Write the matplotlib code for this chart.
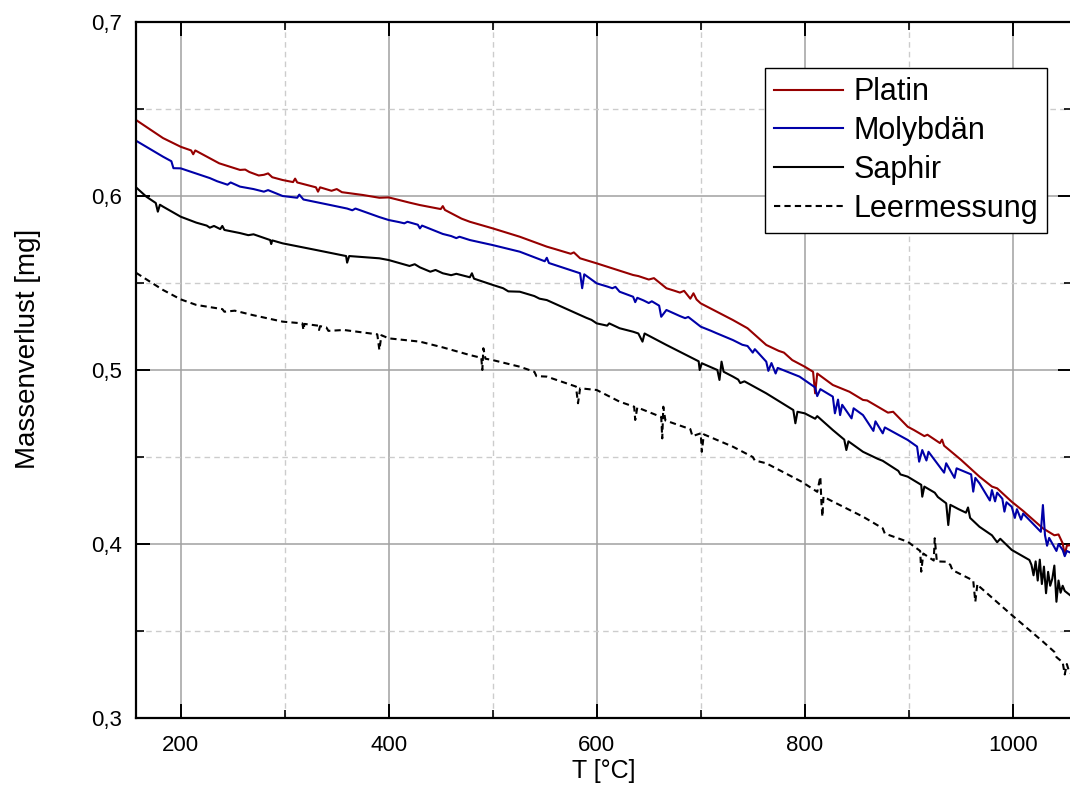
import matplotlib
matplotlib.use("Agg")
import matplotlib.pyplot as plt
from matplotlib.ticker import MultipleLocator, FuncFormatter

plt.rcParams['font.family'] = ['Liberation Sans', 'DejaVu Sans']

# --- data: (T in °C, mass loss in mg) ---
platin = [
    (157, 0.6437), (183, 0.6333), (200, 0.6283), (210, 0.6262), (212, 0.6240), (214, 0.6262),
    (237, 0.6188), (257, 0.6150), (262, 0.6152), (266, 0.6138), (275, 0.6118), (280, 0.6122),
    (284, 0.6130), (288, 0.6108), (298, 0.6092), (308, 0.6080), (310, 0.6100), (312, 0.6078),
    (330, 0.6050), (332, 0.6025), (334, 0.6050), (345, 0.6030), (350, 0.6040), (355, 0.6022),
    (375, 0.6006), (391, 0.5990), (400, 0.5992), (420, 0.5962), (430, 0.5948), (450, 0.5925),
    (452, 0.5942), (454, 0.5920), (470, 0.5870), (478, 0.5852), (500, 0.5814), (526, 0.5766),
    (552, 0.5709), (560, 0.5695), (575, 0.5668), (578, 0.5676), (584, 0.5642), (600, 0.5613),
    (635, 0.5546), (640, 0.5540), (650, 0.5520), (655, 0.5528), (667, 0.5470), (675, 0.5455),
    (680, 0.5445), (684, 0.5455), (690, 0.5410), (693, 0.5441), (696, 0.5405), (700, 0.5383),
    (731, 0.5287), (745, 0.5240), (763, 0.5144), (775, 0.5110), (780, 0.5100), (788, 0.5057),
    (800, 0.5019), (808, 0.4990), (810, 0.4866), (812, 0.4980), (827, 0.4914), (843, 0.4875),
    (856, 0.4828), (860, 0.4825), (880, 0.4755), (885, 0.4760), (899, 0.4674), (905, 0.4655),
    (915, 0.4620), (918, 0.4628), (930, 0.4580), (932, 0.4600), (934, 0.4565), (950, 0.4485),
    (968, 0.4387), (980, 0.4330), (985, 0.4320), (999, 0.4243), (1010, 0.4190), (1029, 0.4090),
    (1040, 0.4050), (1044, 0.4055), (1048, 0.4004), (1050, 0.3937), (1052, 0.3990), (1057, 0.3995),
]

molybdaen = [
    (157, 0.6318), (183, 0.6226), (191, 0.6200), (193, 0.6160), (200, 0.6159), (228, 0.6103),
    (235, 0.6085), (245, 0.6065), (248, 0.6078), (257, 0.6054), (270, 0.6040), (280, 0.6025),
    (284, 0.6034), (298, 0.6000), (312, 0.5990), (314, 0.6008), (318, 0.5980), (344, 0.5948),
    (360, 0.5928), (365, 0.5918), (368, 0.5928), (391, 0.5879), (400, 0.5862), (410, 0.5850),
    (415, 0.5843), (418, 0.5852), (428, 0.5835), (430, 0.5814), (432, 0.5830), (452, 0.5782),
    (460, 0.5770), (465, 0.5758), (468, 0.5766), (478, 0.5747), (500, 0.5718), (526, 0.5680),
    (550, 0.5625), (552, 0.5645), (554, 0.5615), (584, 0.5556), (586, 0.5470), (588, 0.5550),
    (600, 0.5498), (610, 0.5480), (615, 0.5470), (618, 0.5478), (622, 0.5450), (635, 0.5421),
    (637, 0.5390), (639, 0.5415), (645, 0.5400), (650, 0.5385), (653, 0.5395), (660, 0.5370),
    (662, 0.5306), (667, 0.5345), (680, 0.5310), (685, 0.5298), (688, 0.5305), (700, 0.5249),
    (710, 0.5225), (715, 0.5212), (731, 0.5172), (740, 0.5145), (745, 0.5138), (750, 0.5100),
    (752, 0.5120), (763, 0.5048), (765, 0.4995), (768, 0.5040), (772, 0.4980), (774, 0.5012),
    (795, 0.4962), (810, 0.4900), (812, 0.4850), (815, 0.4890), (827, 0.4847), (829, 0.4751),
    (832, 0.4830), (834, 0.4741), (836, 0.4800), (845, 0.4722), (847, 0.4780), (856, 0.4741),
    (866, 0.4650), (868, 0.4705), (875, 0.4636), (877, 0.4670), (899, 0.4598), (908, 0.4560),
    (910, 0.4473), (913, 0.4540), (917, 0.4480), (919, 0.4530), (934, 0.4410), (936, 0.4464),
    (944, 0.4380), (946, 0.4435), (960, 0.4400), (962, 0.4301), (964, 0.4380), (968, 0.4349),
    (978, 0.4250), (980, 0.4310), (983, 0.4245), (985, 0.4295), (990, 0.4260), (992, 0.4186),
    (994, 0.4240), (999, 0.4214), (1002, 0.4150), (1004, 0.4200), (1008, 0.4140), (1010, 0.4175),
    (1027, 0.4070), (1029, 0.4224), (1031, 0.4050), (1033, 0.3990), (1035, 0.4035), (1042, 0.3960),
    (1044, 0.4000), (1048, 0.3966), (1050, 0.3930), (1052, 0.3960), (1057, 0.3946),
]

saphir = [
    (157, 0.6050), (167, 0.5996), (176, 0.5960), (178, 0.5910), (180, 0.5950), (183, 0.5939),
    (200, 0.5881), (215, 0.5847), (225, 0.5830), (228, 0.5818), (232, 0.5828), (238, 0.5810),
    (240, 0.5828), (242, 0.5805), (257, 0.5787), (265, 0.5775), (270, 0.5780), (286, 0.5747),
    (287, 0.5724), (288, 0.5745), (298, 0.5728), (330, 0.5690), (359, 0.5655), (360, 0.5617),
    (362, 0.5655), (391, 0.5642), (400, 0.5632), (410, 0.5615), (420, 0.5598), (425, 0.5608),
    (430, 0.5590), (440, 0.5565), (445, 0.5575), (452, 0.5556), (460, 0.5545), (465, 0.5553),
    (478, 0.5533), (480, 0.5556), (482, 0.5525), (500, 0.5489), (510, 0.5470), (515, 0.5452),
    (526, 0.5450), (540, 0.5425), (545, 0.5410), (552, 0.5402), (584, 0.5316), (590, 0.5300),
    (595, 0.5288), (600, 0.5268), (610, 0.5255), (612, 0.5268), (622, 0.5240), (635, 0.5220),
    (640, 0.5210), (644, 0.5163), (646, 0.5210), (667, 0.5144), (698, 0.5050), (699, 0.5000),
    (701, 0.5039), (716, 0.5000), (718, 0.4943), (720, 0.5048), (722, 0.4990), (731, 0.4962),
    (736, 0.4945), (738, 0.4925), (742, 0.4935), (763, 0.4866), (789, 0.4770), (791, 0.4694),
    (793, 0.4760), (800, 0.4751), (810, 0.4720), (812, 0.4735), (827, 0.4655), (838, 0.4600),
    (840, 0.4540), (842, 0.4590), (856, 0.4530), (870, 0.4490), (875, 0.4478), (890, 0.4420),
    (892, 0.4400), (899, 0.4387), (912, 0.4340), (913, 0.4272), (915, 0.4330), (925, 0.4295),
    (928, 0.4270), (936, 0.4234), (938, 0.4109), (940, 0.4225), (948, 0.4200), (955, 0.4180),
    (957, 0.4210), (959, 0.4150), (968, 0.4099), (980, 0.4050), (985, 0.4010), (988, 0.4030),
    (999, 0.3966), (1016, 0.3908), (1018, 0.3880), (1020, 0.3820), (1022, 0.3900), (1024, 0.3790),
    (1026, 0.3910), (1028, 0.3770), (1030, 0.3870), (1032, 0.3717), (1034, 0.3840), (1036, 0.3760),
    (1038, 0.3800), (1040, 0.3876), (1042, 0.3668), (1044, 0.3790), (1046, 0.3720), (1048, 0.3760),
    (1050, 0.3730), (1057, 0.3697),
]

leermessung = [
    (157, 0.5559), (183, 0.5460), (200, 0.5406), (215, 0.5374), (240, 0.5350), (242, 0.5335),
    (252, 0.5341), (269, 0.5316), (298, 0.5278), (317, 0.5268), (318, 0.5230), (319, 0.5265),
    (332, 0.5255), (333, 0.5230), (334, 0.5252), (340, 0.5245), (342, 0.5225), (357, 0.5230),
    (389, 0.5205), (391, 0.5115), (393, 0.5200), (400, 0.5182), (430, 0.5163), (452, 0.5130),
    (478, 0.5086), (489, 0.5070), (490, 0.5000), (491, 0.5125), (493, 0.5065), (500, 0.5057),
    (526, 0.5019), (540, 0.4990), (542, 0.4965), (552, 0.4962), (580, 0.4905), (582, 0.4809),
    (584, 0.4895), (600, 0.4885), (622, 0.4818), (636, 0.4789), (637, 0.4713), (639, 0.4785),
    (662, 0.4730), (663, 0.4607), (664, 0.4789), (666, 0.4710), (690, 0.4660), (692, 0.4620),
    (700, 0.4636), (701, 0.4530), (703, 0.4630), (731, 0.4559), (750, 0.4500), (752, 0.4480),
    (763, 0.4464), (797, 0.4358), (812, 0.4300), (815, 0.4387), (816, 0.4240), (817, 0.4157),
    (818, 0.4272), (824, 0.4253), (856, 0.4157), (875, 0.4090), (877, 0.4060), (899, 0.4013),
    (911, 0.3960), (912, 0.3841), (914, 0.3945), (924, 0.3905), (925, 0.4033), (927, 0.3900),
    (936, 0.3898), (940, 0.3880), (942, 0.3850), (962, 0.3790), (964, 0.3668), (966, 0.3770),
    (968, 0.3755), (999, 0.3592), (1029, 0.3439), (1040, 0.3380), (1042, 0.3350), (1048, 0.3320),
    (1050, 0.3250), (1052, 0.3310), (1054, 0.3270), (1057, 0.3247),
]

fig = plt.figure(figsize=(10.7, 8.07), dpi=100)
ax = fig.add_axes([0.1271, 0.1103, 0.8748, 0.8624])

for series, name, col, ls in [(platin, 'Platin', '#960000', '-'),
                              (molybdaen, 'Molybdän', '#0000a8', '-'),
                              (saphir, 'Saphir', 'black', '-'),
                              (leermessung, 'Leermessung', 'black', (0, (3, 2)))]:
    T, m = zip(*series)
    ax.plot(T, m, color=col, lw=1.5, linestyle=ls, label=name)

ax.set_xlim(157, 1057)
ax.set_ylim(0.3, 0.7)

ax.xaxis.set_major_locator(MultipleLocator(200))
ax.xaxis.set_minor_locator(MultipleLocator(100))
ax.yaxis.set_major_locator(MultipleLocator(0.1))
ax.yaxis.set_minor_locator(MultipleLocator(0.05))
ax.yaxis.set_major_formatter(FuncFormatter(lambda v, p: f"{v:.1f}".replace('.', ',')))

ax.grid(which='major', color='#a0a0a0', lw=1.1, linestyle='-')
ax.grid(which='minor', color='#cccccc', lw=1.0, linestyle=(0, (4, 3)))
ax.set_axisbelow(True)

ax.tick_params(which='both', direction='in', top=True, right=True, labelsize=16)
ax.tick_params(which='major', length=10, width=1.4)
ax.tick_params(which='minor', length=5.8, width=1.2)
ax.tick_params(axis='x', pad=12)
ax.tick_params(axis='y', pad=10)
for s in ax.spines.values():
    s.set_linewidth(1.6)

ax.set_xlabel('T [°C]', fontsize=18, va='center')
ax.xaxis.set_label_coords(0.5, -0.076)
ax.set_ylabel('Massenverlust [mg]', fontsize=20, va='center')
ax.yaxis.set_label_coords(-0.115, 0.53)

leg = ax.legend(loc='upper right', bbox_to_anchor=(0.9733, 0.9339), borderaxespad=0,
                fontsize=22, fancybox=False, edgecolor='black', framealpha=1,
                handlelength=2.25, handletextpad=0.33, labelspacing=0.29, borderpad=0.3)
leg.get_frame().set_linewidth(1.0)

fig.savefig('out.png', dpi=100)
